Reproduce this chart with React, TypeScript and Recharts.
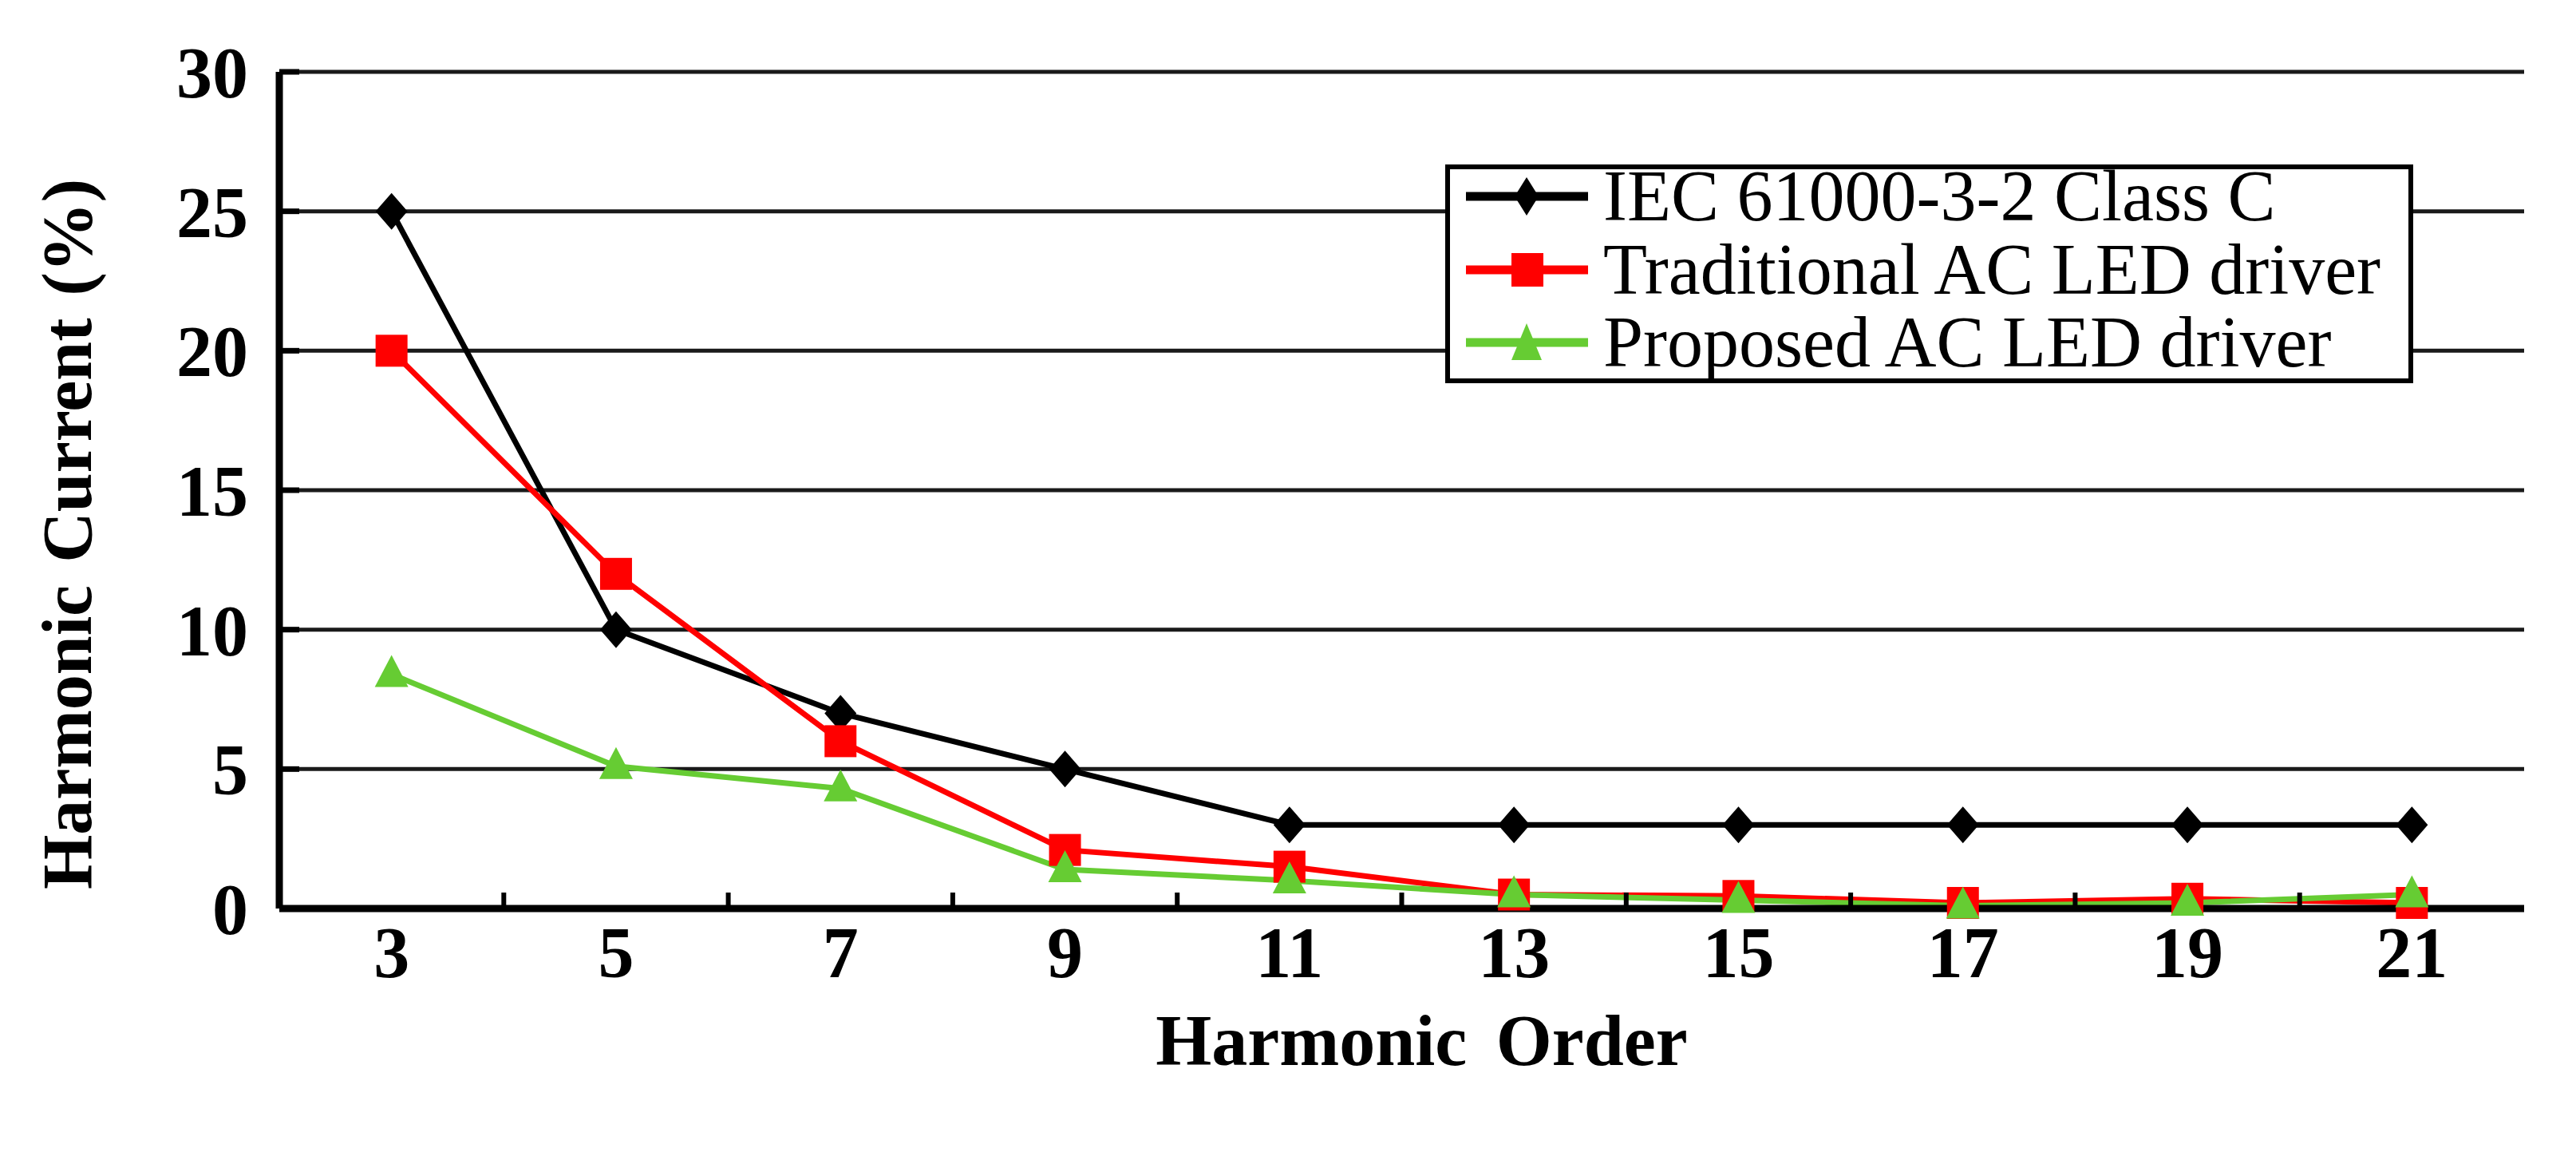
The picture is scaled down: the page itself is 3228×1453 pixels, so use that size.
import React from "react";
import { LineChart, Line, XAxis, YAxis, CartesianGrid, Legend } from "recharts";

if (typeof document !== "undefined") {
  document.body.style.margin = "0";
}

// ---------- data ----------
const harmonicOrders = [3, 5, 7, 9, 11, 13, 15, 17, 19, 21];
const minorTicks = [4, 6, 8, 10, 12, 14, 16, 18, 20];
const iecLimit = [25, 10, 7, 5, 3, 3, 3, 3, 3, 3];
const traditional = [20, 12, 6, 2.1, 1.5, 0.5, 0.45, 0.2, 0.35, 0.2];
const proposed = [8.4, 5.1, 4.3, 1.4, 1.0, 0.5, 0.3, 0.1, 0.2, 0.5];
const yTicks = [0, 5, 10, 15, 20, 25, 30];
const seriesNames = ["IEC 61000-3-2 Class C", "Traditional AC LED driver", "Proposed AC LED driver"];
const seriesColors = ["#000000", "#ff0000", "#66cc33"];
const xTitle = "Harmonic Order";
const yTitle = "Harmonic Current (%)";

const data = harmonicOrders.map((order, i) => ({
  order,
  iec: iecLimit[i],
  trad: traditional[i],
  prop: proposed[i],
}));
const allXTicks = [...harmonicOrders, ...minorTicks].sort((a, b) => a - b);

// ---------- style ----------
const W = 3228;
const H = 1453;
const FONT = "'Liberation Serif', 'Times New Roman', serif";
const FS = 90;
const X_TICK_LEN = 20;
const X_TICK_MARGIN = 42;
const Y_TICK_LEN = 25;
const Y_TICK_MARGIN = 64;

const diamond = (p: any) => {
  const { cx, cy, index } = p;
  if (cx == null || cy == null) return <g key={`d${index}`} />;
  return (
    <path
      key={`d${index}`}
      d={`M${cx},${cy - 23} L${cx + 20},${cy} L${cx},${cy + 23} L${cx - 20},${cy} Z`}
      fill={seriesColors[0]}
    />
  );
};
const square = (p: any) => {
  const { cx, cy, index } = p;
  if (cx == null || cy == null) return <g key={`s${index}`} />;
  return <rect key={`s${index}`} x={cx - 20} y={cy - 20} width={40} height={40} fill={seriesColors[1]} />;
};
const triangle = (p: any) => {
  const { cx, cy, index } = p;
  if (cx == null || cy == null) return <g key={`t${index}`} />;
  return (
    <path
      key={`t${index}`}
      d={`M${cx},${cy - 24} L${cx + 21},${cy + 16} L${cx - 21},${cy + 16} Z`}
      fill={seriesColors[2]}
    />
  );
};

const XTick = (props: any) => {
  const { x, y, payload } = props;
  if (minorTicks.includes(payload.value)) {
    const base = y - X_TICK_MARGIN + X_TICK_LEN;
    return <line x1={x} x2={x} y1={base} y2={base - X_TICK_LEN} stroke="#000" strokeWidth={6} />;
  }
  return (
    <text x={x} y={y} dy="0.71em" textAnchor="middle" fontFamily={FONT} fontWeight="bold" fontSize={FS} fill="#000">
      {payload.value}
    </text>
  );
};

const YTick = (props: any) => {
  const { x, y, payload } = props;
  return (
    <text x={x} y={y} dy="0.355em" textAnchor="end" fontFamily={FONT} fontWeight="bold" fontSize={FS} fill="#000">
      {payload.value}
    </text>
  );
};

const YTitle = (props: any) => {
  const vb = props.viewBox || {};
  const cx = (vb.x ?? 0) + 114;
  const cy = (vb.y ?? 0) + (vb.height ?? 0) / 2 + 55;
  return (
    <text
      x={cx}
      y={cy}
      transform={`rotate(-90 ${cx} ${cy})`}
      textAnchor="middle"
      fontFamily={FONT}
      fontWeight="bold"
      fontSize={88}
      fill="#000"
      style={{ wordSpacing: 6 }}
    >
      {yTitle}
    </text>
  );
};

const XTitle = (props: any) => {
  const vb = props.viewBox || {};
  const cx = (vb.x ?? 0) + (vb.width ?? 0) / 2 + 25;
  const cy = (vb.y ?? 0) + 196;
  return (
    <text x={cx} y={cy} textAnchor="middle" fontFamily={FONT} fontWeight="bold" fontSize={FS} fill="#000" style={{ wordSpacing: 14 }}>
      {xTitle}
    </text>
  );
};

const LegendIcon = ({ i }: { i: number }) => {
  const c = seriesColors[i];
  return (
    <svg width={160} height={64} style={{ display: "block", flex: "none" }}>
      <line x1={2} x2={155} y1={32} y2={32} stroke={c} strokeWidth={11} />
      {i === 0 && <path d="M78,8 L93,32 L78,56 L63,32 Z" fill={c} />}
      {i === 1 && <rect x={59} y={11} width={40} height={42} fill={c} />}
      {i === 2 && <path d="M78,8 L97,54 L59,54 Z" fill={c} />}
    </svg>
  );
};

const renderLegend = () => (
  <div
    style={{
      position: "relative",
      width: 1213,
      height: 274,
      boxSizing: "border-box",
      border: "6px solid #000",
      background: "#fff",
    }}
  >
    {seriesNames.map((name, i) => (
      <div
        key={name}
        style={{
          position: "absolute",
          left: 18,
          top: 40 + i * 91.5 - 45 - 6,
          height: 90,
          display: "flex",
          alignItems: "center",
          whiteSpace: "nowrap",
        }}
      >
        <LegendIcon i={i} />
        <span style={{ fontFamily: FONT, fontSize: FS, lineHeight: 1, marginLeft: 14, color: "#000" }}>{name}</span>
      </div>
    ))}
  </div>
);

export default function App() {
  return (
    <div style={{ width: W, height: H, background: "#fff", position: "relative" }}>
      <LineChart width={W} height={H} data={data} margin={{ top: 90, right: 65, bottom: 115, left: 0 }}>
        <CartesianGrid vertical={false} stroke="#1a1a1a" strokeWidth={5} />
        <XAxis
          dataKey="order"
          type="number"
          domain={[2, 22]}
          ticks={allXTicks}
          interval={0}
          height={200}
          tick={<XTick />}
          tickLine={false}
          tickSize={-X_TICK_LEN}
          tickMargin={X_TICK_MARGIN}
          axisLine={{ stroke: "#000", strokeWidth: 9 }}
          label={<XTitle />}
        />
        <XAxis
          xAxisId="top"
          dataKey="order"
          type="number"
          domain={[2, 22]}
          orientation="top"
          height={0}
          tick={false}
          tickLine={false}
          axisLine={{ stroke: "#000", strokeWidth: 8 }}
        />
        <YAxis
          type="number"
          domain={[0, 30]}
          ticks={yTicks}
          interval={0}
          width={350}
          tick={<YTick />}
          tickSize={-Y_TICK_LEN}
          tickMargin={Y_TICK_MARGIN}
          tickLine={{ stroke: "#000", strokeWidth: 7 }}
          axisLine={{ stroke: "#000", strokeWidth: 9 }}
          label={<YTitle />}
        />
        <YAxis
          yAxisId="right"
          orientation="right"
          type="number"
          domain={[0, 30]}
          width={0}
          tick={false}
          tickLine={false}
          axisLine={{ stroke: "#000", strokeWidth: 8 }}
        />
        <Legend
          layout="horizontal"
          verticalAlign="middle"
          align="center"
          content={renderLegend}
          wrapperStyle={{ position: "absolute", left: 1811, top: 206, width: 1213, height: 274 }}
        />
        <Line
          dataKey="iec"
          name={seriesNames[0]}
          stroke={seriesColors[0]}
          strokeWidth={7}
          dot={diamond}
          isAnimationActive={false}
        />
        <Line
          dataKey="trad"
          name={seriesNames[1]}
          stroke={seriesColors[1]}
          strokeWidth={7}
          dot={square}
          isAnimationActive={false}
        />
        <Line
          dataKey="prop"
          name={seriesNames[2]}
          stroke={seriesColors[2]}
          strokeWidth={7}
          dot={triangle}
          isAnimationActive={false}
        />
      </LineChart>
    </div>
  );
}
